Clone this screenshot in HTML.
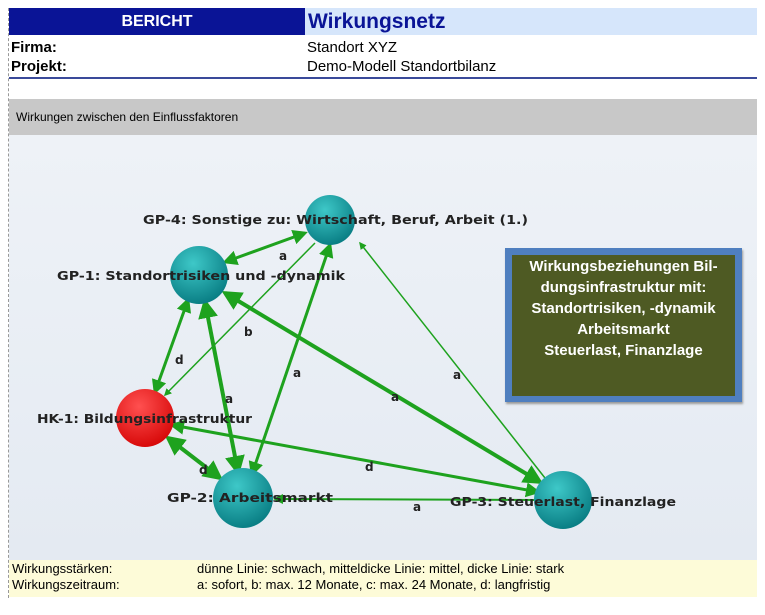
<!DOCTYPE html>
<html><head><meta charset="utf-8"><style>
body{margin:0;width:765px;height:615px;background:#fff;position:relative;overflow:hidden;font-family:"Liberation Sans",sans-serif}
.a{position:absolute}
</style></head><body>
<div class="a" style="left:8px;top:8px;width:0;height:590px;border-left:1px dashed #999"></div>
<div class="a" style="left:9px;top:8px;width:296px;height:27px;background:#0a1496;color:#fff;font-weight:bold;font-size:16px;line-height:27px;text-align:center">BERICHT</div>
<div class="a" style="left:305px;top:8px;width:452px;height:27px;background:#d6e6fb;color:#0a1496;font-weight:bold;font-size:21px;line-height:27px;padding-left:3px;box-sizing:border-box">Wirkungsnetz</div>
<div class="a" style="left:9px;top:35px;width:748px;height:42px;border-bottom:2px solid #3a4a9a"></div>
<div class="a" style="left:11px;top:38px;font-size:15px;font-weight:bold;line-height:19px">Firma:<br>Projekt:</div>
<div class="a" style="left:307px;top:38px;font-size:15px;line-height:19px">Standort XYZ<br>Demo-Modell Standortbilanz</div>
<div class="a" style="left:9px;top:99px;width:748px;height:36px;background:#c8c8c8;font-size:12px;line-height:36px;padding-left:7px;box-sizing:border-box">Wirkungen zwischen den Einflussfaktoren</div>
<div class="a" style="left:9px;top:135px;width:748px;height:425px;background:linear-gradient(180deg,#eef2f7,#e4eaf2)"></div>
<div class="a" style="left:9px;top:560px;width:748px;height:36px;background:#fdfbd8;font-size:13px;line-height:16px;padding-top:1px">
<div class="a" style="left:3px;top:1px">Wirkungsstärken:<br>Wirkungszeitraum:</div>
<div class="a" style="left:188px;top:1px;white-space:nowrap">dünne Linie: schwach, mitteldicke Linie: mittel, dicke Linie: stark<br>a: sofort, b: max. 12 Monate, c: max. 24 Monate, d: langfristig</div></div>
<svg class="a" style="left:0;top:0" width="765" height="615">
<defs>
<marker id="m" markerWidth="5" markerHeight="5" refX="4" refY="2.5" orient="auto-start-reverse"><path d="M0,0L5,2.5L0,5z" fill="#1ea21e"/></marker>
<radialGradient id="t" cx="40%" cy="30%" r="70%"><stop offset="0" stop-color="#3ec8c8"/><stop offset="1" stop-color="#0a7f85"/></radialGradient>
<radialGradient id="r" cx="40%" cy="30%" r="70%"><stop offset="0" stop-color="#ff5050"/><stop offset="1" stop-color="#d80a0a"/></radialGradient>
</defs>
<g stroke="#1ea21e" fill="none" marker-end="url(#m)" marker-start="url(#m)">
<line x1="305" y1="233" x2="225" y2="262" stroke-width="3"/>
<line x1="315" y1="243" x2="165" y2="395" stroke-width="1.5" marker-start="none"/>
<line x1="330" y1="245" x2="252" y2="474" stroke-width="3"/>
<line x1="545" y1="478" x2="360" y2="243" stroke-width="1.5" marker-start="none"/>
<line x1="188" y1="300" x2="155" y2="392" stroke-width="3"/>
<line x1="205" y1="302" x2="238" y2="472" stroke-width="4"/>
<line x1="225" y1="293" x2="540" y2="482" stroke-width="4"/>
<line x1="172" y1="425" x2="538" y2="492" stroke-width="3"/>
<line x1="168" y1="438" x2="220" y2="478" stroke-width="4"/>
<line x1="535" y1="500" x2="275" y2="499" stroke-width="2" marker-start="none"/>
</g>
<circle cx="330" cy="220" r="25" fill="url(#t)"/>
<circle cx="199" cy="275" r="29" fill="url(#t)"/>
<circle cx="145" cy="418" r="29" fill="url(#r)"/>
<circle cx="243" cy="498" r="30" fill="url(#t)"/>
<circle cx="563" cy="500" r="29" fill="url(#t)"/>
<g font-family="DejaVu Sans,sans-serif" font-size="12.5" font-weight="bold" fill="#222">
<text x="143" y="224" textLength="385" lengthAdjust="spacingAndGlyphs">GP-4: Sonstige zu: Wirtschaft, Beruf, Arbeit (1.)</text>
<text x="57" y="280" textLength="288" lengthAdjust="spacingAndGlyphs">GP-1: Standortrisiken und -dynamik</text>
<text x="37" y="423" textLength="215" lengthAdjust="spacingAndGlyphs">HK-1: Bildungsinfrastruktur</text>
<text x="167" y="502" textLength="166" lengthAdjust="spacingAndGlyphs">GP-2: Arbeitsmarkt</text>
<text x="450" y="506" textLength="226" lengthAdjust="spacingAndGlyphs">GP-3: Steuerlast, Finanzlage</text>
<g font-size="12">
<text x="279" y="260">a</text><text x="244" y="336">b</text><text x="175" y="364">d</text>
<text x="293" y="377">a</text><text x="225" y="403">a</text><text x="391" y="401">a</text>
<text x="453" y="379">a</text><text x="365" y="471">d</text><text x="199" y="474">d</text><text x="413" y="511">a</text></g>
</g>
</svg>
<div class="a" style="left:505px;top:248px;width:237px;height:154px;background:#4f7fbf;box-shadow:1px 2px 2px #999"></div>
<div class="a" style="left:512px;top:255px;width:223px;height:140px;background:#4e5a23;color:#fff;font-weight:bold;font-size:15px;line-height:21px;text-align:center;padding-top:1px">Wirkungsbeziehungen Bil-<br>dungsinfrastruktur mit:<br>Standortrisiken, -dynamik<br>Arbeitsmarkt<br>Steuerlast, Finanzlage</div>
</body></html>
